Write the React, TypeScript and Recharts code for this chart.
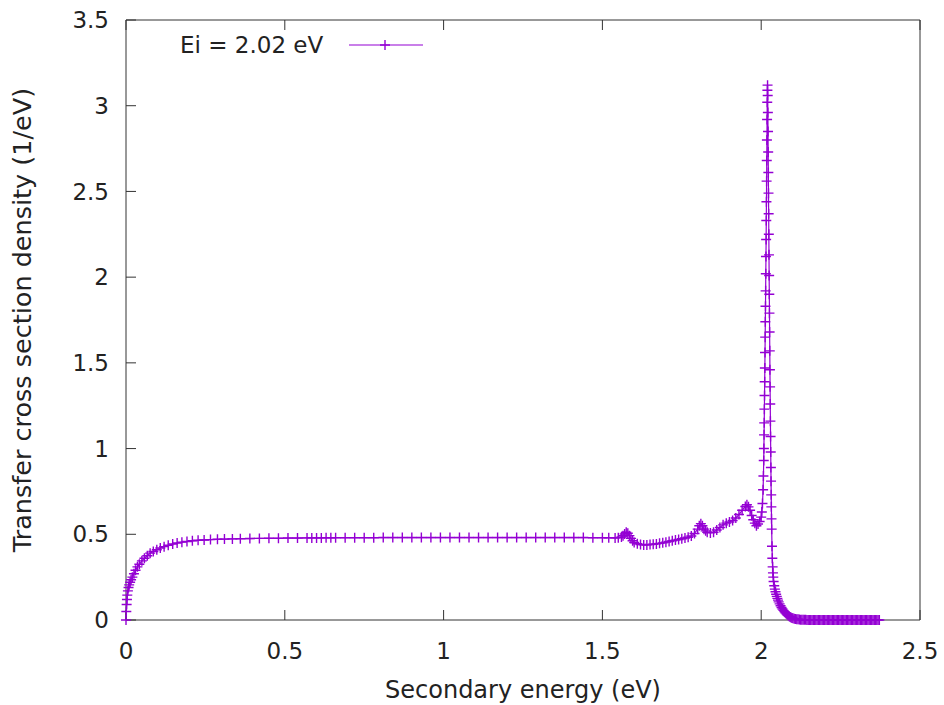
import React from "react";
import { Legend, Line, LineChart, XAxis, YAxis } from "recharts";

const FONT = "'DejaVu Sans', sans-serif";
const PURPLE = "#9400D3";
const INK = "#222";

// secondary energy (eV) / transfer cross section density (1/eV)
const riseX = [0, 0.001, 0.002, 0.003, 0.004, 0.006, 0.008, 0.01, 0.013, 0.016, 0.02, 0.025, 0.03, 0.036, 0.042, 0.05, 0.058, 0.067, 0.076, 0.086, 0.097, 0.108, 0.12, 0.133, 0.147, 0.161, 0.176, 0.192, 0.209, 0.227, 0.246, 0.266, 0.288, 0.31, 0.335, 0.36, 0.39, 0.42, 0.45, 0.48];
const riseY = [0, 0.05, 0.09, 0.12, 0.145, 0.17, 0.19, 0.205, 0.22, 0.235, 0.25, 0.27, 0.29, 0.31, 0.325, 0.345, 0.36, 0.375, 0.39, 0.4, 0.41, 0.42, 0.428, 0.436, 0.443, 0.449, 0.454, 0.458, 0.462, 0.465, 0.467, 0.469, 0.471, 0.472, 0.473, 0.474, 0.475, 0.476, 0.477, 0.477];

const flatX = [0.51, 0.54, 0.57, 0.585, 0.6, 0.615, 0.63, 0.645, 0.66, 0.69, 0.72, 0.75, 0.78, 0.81, 0.84, 0.87, 0.9, 0.93, 0.96, 0.99, 1.02, 1.05, 1.08, 1.11, 1.14, 1.17, 1.2, 1.23, 1.26, 1.29, 1.32, 1.35, 1.38, 1.41, 1.44, 1.47, 1.5, 1.52, 1.54, 1.55];
const flatY = [0.478, 0.478, 0.479, 0.479, 0.479, 0.479, 0.48, 0.48, 0.48, 0.48, 0.48, 0.48, 0.48, 0.481, 0.481, 0.481, 0.481, 0.481, 0.481, 0.481, 0.481, 0.481, 0.481, 0.481, 0.481, 0.481, 0.481, 0.481, 0.481, 0.481, 0.481, 0.481, 0.481, 0.481, 0.481, 0.48, 0.48, 0.48, 0.479, 0.48];

const bumpsX = [1.56, 1.565, 1.57, 1.575, 1.58, 1.585, 1.59, 1.595, 1.6, 1.61, 1.62, 1.63, 1.64, 1.65, 1.66, 1.67, 1.68, 1.69, 1.7, 1.71, 1.72, 1.73, 1.74, 1.75, 1.76, 1.77, 1.78, 1.79, 1.8, 1.805, 1.81, 1.815, 1.82, 1.825, 1.83, 1.84, 1.85, 1.86, 1.87, 1.88, 1.89, 1.9, 1.91, 1.92, 1.93, 1.94, 1.95, 1.955, 1.96, 1.965, 1.97, 1.975, 1.98, 1.985, 1.99, 1.995];
const bumpsY = [0.484, 0.492, 0.502, 0.512, 0.506, 0.492, 0.476, 0.462, 0.452, 0.445, 0.44, 0.438, 0.438, 0.44, 0.442, 0.444, 0.447, 0.45, 0.454, 0.458, 0.462, 0.466, 0.47, 0.474, 0.478, 0.483, 0.49, 0.505, 0.53, 0.55, 0.562, 0.55, 0.53, 0.52, 0.512, 0.508, 0.512, 0.525, 0.54, 0.555, 0.565, 0.572, 0.58, 0.595, 0.615, 0.64, 0.662, 0.672, 0.66, 0.64, 0.61, 0.585, 0.565, 0.55, 0.56, 0.575];

const spikeX = [2.0, 2.002, 2.004, 2.006, 2.007, 2.008, 2.0085, 2.009, 2.0095, 2.01, 2.0105, 2.011, 2.0115, 2.012, 2.0125, 2.013, 2.0135, 2.014, 2.0145, 2.015, 2.0155, 2.016, 2.0165, 2.017, 2.0175, 2.018, 2.0185, 2.019, 2.0195, 2.02, 2.0205, 2.021, 2.0215, 2.022, 2.0225, 2.023, 2.0235, 2.024, 2.0245, 2.025, 2.0255, 2.026, 2.0265, 2.027, 2.0275, 2.028, 2.0285, 2.029, 2.0295, 2.03, 2.0305, 2.031, 2.0315, 2.032, 2.0325, 2.033, 2.034, 2.035, 2.036, 2.037, 2.038, 2.039];
const spikeY = [0.6, 0.63, 0.68, 0.76, 0.84, 0.93, 1.0, 1.08, 1.15, 1.23, 1.31, 1.39, 1.47, 1.56, 1.65, 1.74, 1.83, 1.92, 2.02, 2.12, 2.22, 2.33, 2.44, 2.56, 2.68, 2.8, 2.92, 3.02, 3.09, 3.12, 3.06, 2.96, 2.85, 2.73, 2.61, 2.49, 2.37, 2.25, 2.13, 2.01, 1.9, 1.79, 1.68, 1.57, 1.46, 1.36, 1.26, 1.16, 1.07, 0.98, 0.89, 0.81, 0.73, 0.66, 0.59, 0.53, 0.43, 0.36, 0.31, 0.275, 0.25, 0.225];

const decayX = [2.041, 2.043, 2.045, 2.047, 2.049, 2.051, 2.053, 2.055, 2.058, 2.061, 2.064, 2.067, 2.07, 2.073, 2.076, 2.079, 2.082, 2.085, 2.088, 2.091, 2.094, 2.097, 2.1, 2.104, 2.108, 2.112, 2.116, 2.12, 2.124, 2.128, 2.132, 2.136, 2.14];
const decayY = [0.2, 0.18, 0.165, 0.15, 0.138, 0.126, 0.116, 0.106, 0.094, 0.083, 0.073, 0.064, 0.056, 0.049, 0.042, 0.036, 0.031, 0.026, 0.022, 0.018, 0.015, 0.012, 0.01, 0.008, 0.006, 0.005, 0.004, 0.003, 0.002, 0.002, 0.001, 0.001, 0.001];

const tailX = [2.144, 2.148, 2.152, 2.156, 2.16, 2.164, 2.168, 2.172, 2.176, 2.18, 2.184, 2.188, 2.192, 2.196, 2.2, 2.204, 2.208, 2.212, 2.216, 2.22, 2.224, 2.228, 2.232, 2.236, 2.24, 2.244, 2.248, 2.252, 2.256, 2.26, 2.264, 2.268, 2.272, 2.276, 2.28, 2.284, 2.288, 2.292, 2.296, 2.3, 2.304, 2.308, 2.312, 2.316, 2.32, 2.324, 2.328, 2.332, 2.336, 2.34, 2.344, 2.348, 2.352, 2.356, 2.36, 2.364, 2.368, 2.372];
const tailY = [0, 0, 0, 0, 0, 0, 0, 0, 0, 0, 0, 0, 0, 0, 0, 0, 0, 0, 0, 0, 0, 0, 0, 0, 0, 0, 0, 0, 0, 0, 0, 0, 0, 0, 0, 0, 0, 0, 0, 0, 0, 0, 0, 0, 0, 0, 0, 0, 0, 0, 0, 0, 0, 0, 0, 0, 0, 0];

const xTicks = [0, 0.5, 1, 1.5, 2, 2.5];
const yTicks = [0, 0.5, 1, 1.5, 2, 2.5, 3, 3.5];

const energy = [...riseX, ...flatX, ...bumpsX, ...spikeX, ...decayX, ...tailX];
const density = [...riseY, ...flatY, ...bumpsY, ...spikeY, ...decayY, ...tailY];
const data = energy.map((x, i) => ({ x, y: density[i] }));

const PlusDot = (props: any) => {
	const { cx, cy, index } = props;
	if (cx == null || cy == null) return <g key={index} />;
	return (
		<path
			key={index}
			d={`M${cx - 5},${cy}h10M${cx},${cy - 5}v10`}
			stroke={PURPLE}
			strokeWidth={1.4}
			fill="none"
		/>
	);
};

const LegendBox = () => (
	<div
		style={{
			display: "flex",
			alignItems: "center",
			fontFamily: FONT,
			fontSize: 23,
			color: INK,
			lineHeight: "30px",
			whiteSpace: "nowrap",
		}}
	>
		<span>Ei = 2.02 eV</span>
		<svg width={74} height={12} style={{ marginLeft: 26 }}>
			<line x1={0} y1={6} x2={74} y2={6} stroke={PURPLE} strokeWidth={1.2} />
			<path d="M31,6h10M36,1v10" stroke={PURPLE} strokeWidth={1.4} />
		</svg>
	</div>
);

const tickStyle = { fill: INK, fontSize: 23, fontFamily: FONT };
const axisLine = { stroke: "#333", strokeWidth: 1 };

export default function App() {
	return (
		<div style={{ position: "absolute", left: 0, top: 0, background: "#fff" }}>
			<LineChart
				width={944}
				height={705}
				data={data}
				margin={{ top: 19, right: 23, bottom: 0, left: 0 }}
			>
				<XAxis
					xAxisId="bottom"
					dataKey="x"
					type="number"
					domain={[0, 2.5]}
					ticks={xTicks}
					height={85}
					tickSize={-10}
					tickMargin={33}
					tick={tickStyle}
					axisLine={axisLine}
					tickLine={axisLine}
					label={{
						value: "Secondary energy (eV)",
						position: "insideBottom",
						offset: 7,
						style: { fill: INK, fontSize: 24, fontFamily: FONT },
					}}
				/>
				<XAxis
					xAxisId="top"
					orientation="top"
					dataKey="x"
					type="number"
					domain={[0, 2.5]}
					ticks={xTicks}
					height={1}
					tickSize={-10}
					tickFormatter={() => ""}
					axisLine={axisLine}
					tickLine={axisLine}
				/>
				<YAxis
					yAxisId="left"
					type="number"
					domain={[0, 3.5]}
					ticks={yTicks}
					width={126}
					tickSize={-10}
					tickMargin={27}
					tick={tickStyle}
					axisLine={axisLine}
					tickLine={axisLine}
					label={{
						value: "Transfer cross section density (1/eV)",
						angle: -90,
						position: "insideLeft",
						offset: 22,
						style: { fill: INK, fontSize: 25.5, fontFamily: FONT, textAnchor: "middle" },
					}}
				/>
				<YAxis
					yAxisId="right"
					orientation="right"
					type="number"
					domain={[0, 3.5]}
					ticks={yTicks}
					width={1}
					tickSize={-10}
					tickFormatter={() => ""}
					axisLine={axisLine}
					tickLine={axisLine}
				/>
				<Legend
					layout="horizontal"
					verticalAlign="middle"
					align="center"
					wrapperStyle={{ top: 30, left: 180, width: "auto" }}
					content={() => <LegendBox />}
				/>
				<Line
					xAxisId="bottom"
					yAxisId="left"
					dataKey="y"
					type="linear"
					stroke={PURPLE}
					strokeWidth={1.2}
					dot={PlusDot}
					activeDot={false}
					isAnimationActive={false}
				/>
			</LineChart>
		</div>
	);
}
